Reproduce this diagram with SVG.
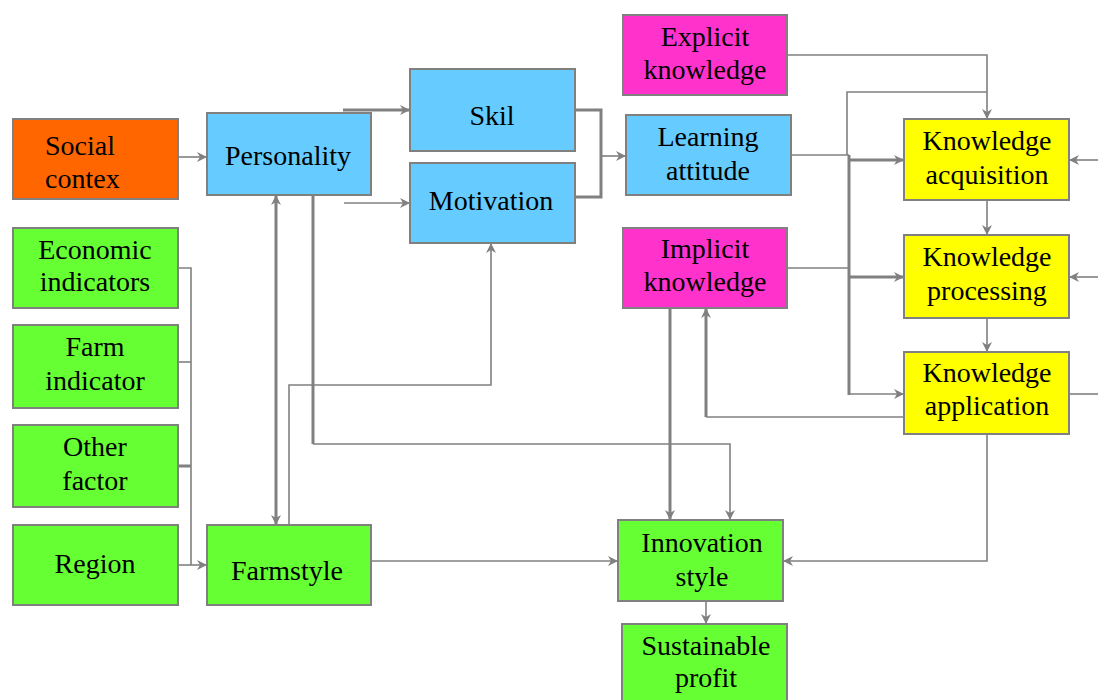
<svg xmlns="http://www.w3.org/2000/svg" width="1098" height="700" viewBox="0 0 1098 700">
<style>
.box{stroke:#808080;stroke-width:2}
.or{fill:#FF6600}.bl{fill:#66CCFF}.mg{fill:#FF33CC}.ye{fill:#FFFF00}.gr{fill:#66FF33}
text{font-family:"Liberation Serif","Times New Roman",serif;font-size:28px;fill:#000;text-anchor:middle}
.c{fill:none;stroke:#808080;stroke-width:1.6}
.t{fill:none;stroke:#808080;stroke-width:3}
.a{marker-end:url(#ah)}
</style>
<defs>
<marker id="ah" viewBox="0 0 10 10" refX="10" refY="5" markerWidth="10" markerHeight="10" markerUnits="userSpaceOnUse" orient="auto">
<path d="M0,0 L10,5 L0,10 L3,5 z" fill="#808080"/>
</marker>
<marker id="ahs" viewBox="0 0 10 10" refX="10" refY="5" markerWidth="10" markerHeight="10" markerUnits="userSpaceOnUse" orient="auto-start-reverse">
<path d="M0,0 L10,5 L0,10 L3,5 z" fill="#808080"/>
</marker>
</defs>
<rect width="1098" height="700" fill="#fff"/>
<g id="connectors">
<path class="c a" d="M178,157 H207"/>
<path class="t a" d="M343,110 H410"/>
<path class="c a" d="M344,203 H410"/>
<path class="t" d="M576,110 H601 V197 H576"/>
<path class="c a" d="M601,156 H626"/>
<path class="c a" d="M787,55 H987 V119"/>
<path class="c" d="M847,155 V92 H987"/>
<path class="c" d="M791,155 H849"/>
<path class="c" d="M787,268 H849"/>
<path class="t" d="M849,155 V395"/>
<path class="t a" d="M849,160 H904"/>
<path class="t a" d="M849,277 H904"/>
<path class="c a" d="M849,394 H904"/>
<path class="c a" d="M1098,160 H1069"/>
<path class="c a" d="M1098,277 H1069"/>
<path class="c" d="M1069,394 H1098"/>
<path class="c a" d="M987,200 V235"/>
<path class="c a" d="M987,318 V352"/>
<path class="c" d="M904,417 H706"/>
<path class="t a" d="M706,417 V308"/>
<path class="c a" d="M987,434 V561 H783"/>
<path class="t a" d="M670,308 V520"/>
<path class="t" d="M313,195 V444"/>
<path class="c a" d="M313,444 H730 V520"/>
<path class="t" d="M276,195 V525" marker-start="url(#ahs)" marker-end="url(#ahs)"/>
<path class="c a" d="M289,525 V385 H491 V243"/>
<path class="c" d="M178,268 H191 V565"/>
<path class="c" d="M178,362 H191"/>
<path class="t" d="M178,466 H191"/>
<path class="c a" d="M178,565 H207"/>
<path class="c a" d="M371,561 H618"/>
<path class="c a" d="M706,601 V624"/>
</g>
<g id="social"><rect class="box or" x="13" y="119" width="165" height="80"/><text x="45" y="155" style="text-anchor:start">Social</text><text x="45" y="188" style="text-anchor:start">contex</text></g>
<g id="personality"><rect class="box bl" x="207" y="113" width="164" height="82"/><text x="288" y="165">Personality</text></g>
<g id="skil"><rect class="box bl" x="410" y="69" width="165" height="82"/><text x="492" y="125">Skil</text></g>
<g id="motivation"><rect class="box bl" x="410" y="163" width="165" height="80"/><text x="491" y="210">Motivation</text></g>
<g id="learning"><rect class="box bl" x="626" y="115" width="165" height="80"/><text x="708" y="146">Learning</text><text x="708" y="180">attitude</text></g>
<g id="explicit"><rect class="box mg" x="623" y="15" width="164" height="80"/><text x="705" y="46">Explicit</text><text x="705" y="79">knowledge</text></g>
<g id="implicit"><rect class="box mg" x="623" y="228" width="164" height="80"/><text x="705" y="258">Implicit</text><text x="705" y="291">knowledge</text></g>
<g id="acquisition"><rect class="box ye" x="904" y="119" width="165" height="81"/><text x="987" y="150">Knowledge</text><text x="987" y="184">acquisition</text></g>
<g id="processing"><rect class="box ye" x="904" y="235" width="165" height="83"/><text x="987" y="266">Knowledge</text><text x="987" y="300">processing</text></g>
<g id="application"><rect class="box ye" x="904" y="352" width="165" height="82"/><text x="987" y="382">Knowledge</text><text x="987" y="415">application</text></g>
<g id="economic"><rect class="box gr" x="13" y="228" width="165" height="80"/><text x="95" y="259">Economic</text><text x="95" y="291">indicators</text></g>
<g id="farm"><rect class="box gr" x="13" y="325" width="165" height="83"/><text x="95" y="356">Farm</text><text x="95" y="390">indicator</text></g>
<g id="other"><rect class="box gr" x="13" y="425" width="165" height="82"/><text x="95" y="456">Other</text><text x="95" y="490">factor</text></g>
<g id="region"><rect class="box gr" x="13" y="525" width="165" height="80"/><text x="95" y="573">Region</text></g>
<g id="farmstyle"><rect class="box gr" x="207" y="525" width="164" height="80"/><text x="287" y="580">Farmstyle</text></g>
<g id="innovation"><rect class="box gr" x="618" y="520" width="165" height="81"/><text x="702" y="552">Innovation</text><text x="702" y="586">style</text></g>
<g id="sustainable"><rect class="box gr" x="622" y="624" width="165" height="80"/><text x="706" y="655">Sustainable</text><text x="706" y="687">profit</text></g>
</svg>
